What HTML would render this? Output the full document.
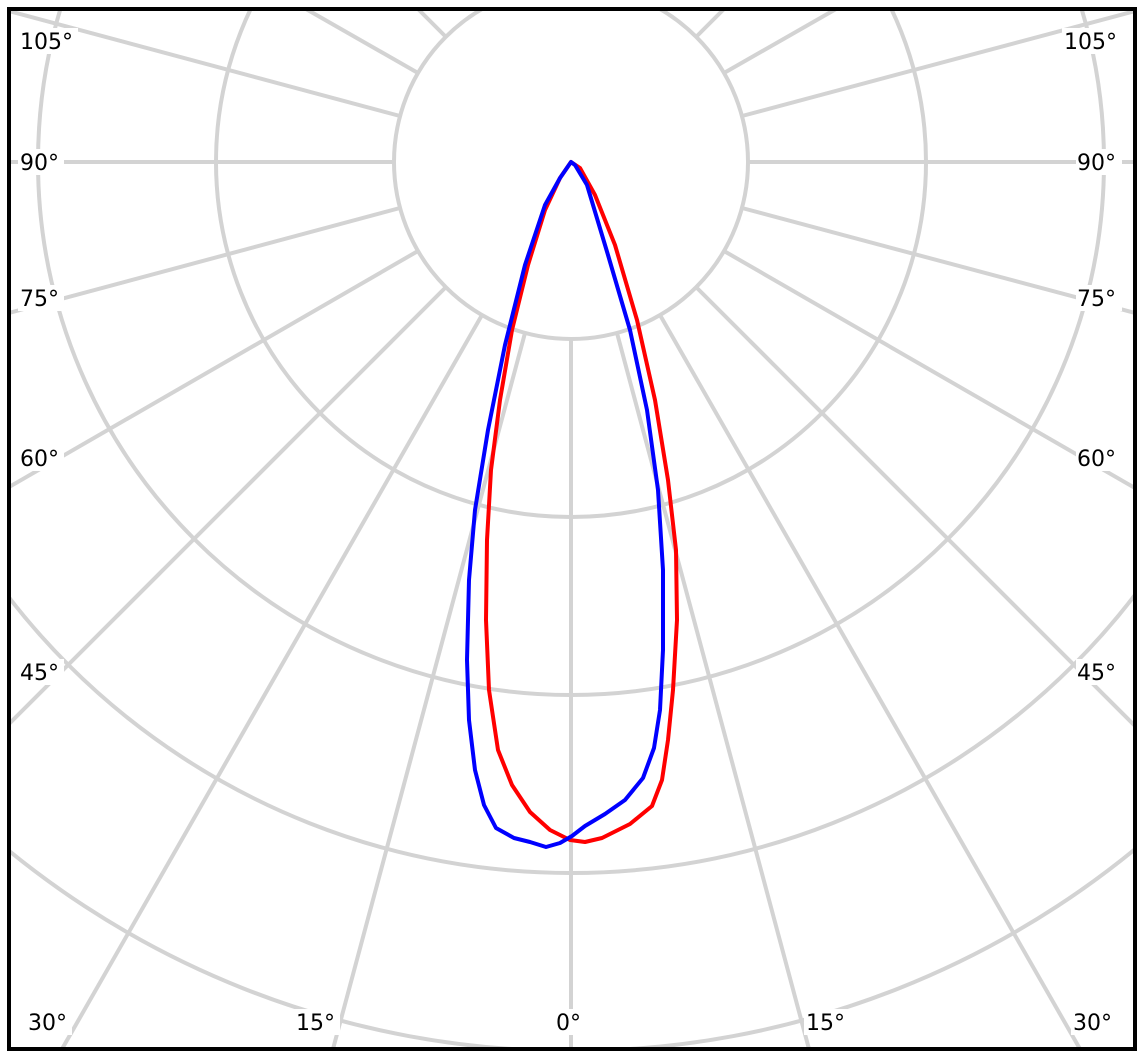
<!DOCTYPE html>
<html><head><meta charset="utf-8"><style>
html,body{margin:0;padding:0;background:#fff;width:1143px;height:1064px;overflow:hidden}
svg{display:block}
text{font-family:"DejaVu Sans","Liberation Sans",sans-serif;font-size:22px;fill:#000}
</style></head><body>
<svg width="1143" height="1064" viewBox="0 0 1143 1064" xmlns="http://www.w3.org/2000/svg" overflow="hidden">
<defs><clipPath id="c"><rect x="9" y="9" width="1126" height="1040"/></clipPath></defs>
<rect width="1143" height="1064" fill="#fff"/>
<g clip-path="url(#c)" stroke="#d3d3d3" stroke-width="4" fill="none">
<circle cx="571" cy="162" r="177"/>
<circle cx="571" cy="162" r="355"/>
<circle cx="571" cy="162" r="533"/>
<circle cx="571" cy="162" r="711"/>
<circle cx="571" cy="162" r="889"/>
</g>
<g stroke="#d3d3d3" stroke-width="4" clip-path="url(#c)">
<line x1="571" y1="339" x2="571" y2="1049"/>
<line x1="617" y1="333" x2="809" y2="1049"/><line x1="525" y1="333" x2="333" y2="1049"/>
<line x1="660" y1="315" x2="1080" y2="1049"/><line x1="482" y1="315" x2="62" y2="1049"/>
<line x1="696" y1="287" x2="1135" y2="726"/><line x1="446" y1="287" x2="9" y2="724"/>
<line x1="724" y1="251" x2="1135" y2="488"/><line x1="418" y1="251" x2="9" y2="487"/>
<line x1="742" y1="208" x2="1135" y2="313"/><line x1="400" y1="208" x2="9" y2="313"/>
<line x1="748" y1="162" x2="1135" y2="162"/><line x1="394" y1="162" x2="9" y2="162"/>
<line x1="742" y1="116" x2="1135" y2="11"/><line x1="400" y1="116" x2="9" y2="11"/>
<line x1="724" y1="73" x2="836" y2="9"/><line x1="418" y1="73" x2="306" y2="9"/>
<line x1="696" y1="37" x2="724" y2="9"/><line x1="446" y1="37" x2="418" y2="9"/>
</g>
<g>
<rect x="18" y="28" width="60" height="26" fill="#fff"/><text x="20" y="49">105°</text>
<rect x="1062" y="28" width="60" height="26" fill="#fff"/><text x="1064" y="49">105°</text>
<rect x="18" y="149" width="46" height="26" fill="#fff"/><text x="20" y="170">90°</text>
<rect x="1076" y="149" width="46" height="26" fill="#fff"/><text x="1077" y="170">90°</text>
<rect x="18" y="285" width="46" height="26" fill="#fff"/><text x="20" y="306">75°</text>
<rect x="1076" y="285" width="46" height="26" fill="#fff"/><text x="1077" y="306">75°</text>
<rect x="18" y="445" width="46" height="26" fill="#fff"/><text x="20" y="466">60°</text>
<rect x="1076" y="445" width="46" height="26" fill="#fff"/><text x="1077" y="466">60°</text>
<rect x="18" y="659" width="46" height="26" fill="#fff"/><text x="20" y="680">45°</text>
<rect x="1076" y="659" width="46" height="26" fill="#fff"/><text x="1077" y="680">45°</text>
<rect x="26" y="1009" width="46" height="26" fill="#fff"/><text x="28" y="1030">30°</text>
<rect x="294" y="1009" width="46" height="26" fill="#fff"/><text x="296" y="1030">15°</text>
<rect x="554" y="1009" width="34" height="26" fill="#fff"/><text x="556" y="1030">0°</text>
<rect x="804" y="1009" width="46" height="26" fill="#fff"/><text x="806" y="1030">15°</text>
<rect x="1071" y="1009" width="46" height="26" fill="#fff"/><text x="1073" y="1030">30°</text>
</g>
<path fill="none" stroke="#ff0000" stroke-width="4" stroke-linejoin="round" d="M571,162 L560,178 L545,210 L528,265 L512,330 L500,400 L491,470 L487,540 L486,620 L489,690 L498,750 L512,785 L530,812 L550,830 L570,840 L585,842 L602,838 L630,824 L652,806 L662,780 L668,740 L673,690 L677,620 L676,550 L668,480 L655,400 L637,320 L615,245 L595,195 L580,168 Z"/>
<path fill="none" stroke="#0000ff" stroke-width="4" stroke-linejoin="round" d="M571,162 L560,178 L545,205 L525,265 L505,345 L488,430 L475,510 L469,580 L467,660 L469,720 L475,770 L484,805 L496,828 L514,838 L530,842 L546,847 L560,843 L572,836 L585,826 L605,814 L625,800 L643,778 L654,748 L660,710 L663,650 L663,570 L658,490 L647,410 L630,330 L608,255 L587,185 L575,165 Z"/>
<rect x="9" y="9" width="1126" height="1040" fill="none" stroke="#000" stroke-width="4"/>
</svg>
</body></html>
